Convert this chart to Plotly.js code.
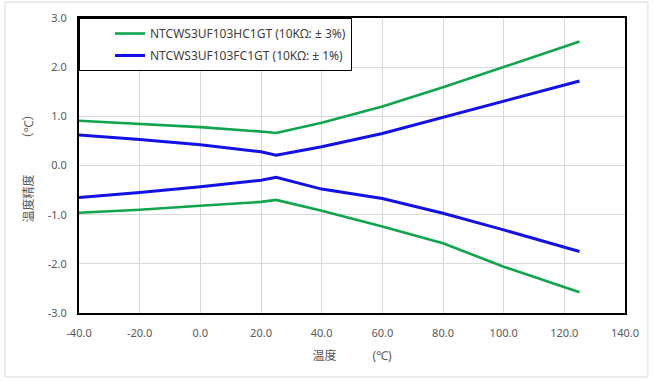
<!DOCTYPE html>
<html><head><meta charset="utf-8">
<script src="https://cdn.plot.ly/plotly-3.0.1.min.js"></script>
<style>body{margin:0;background:#fff}#c{width:653px;height:381px}</style>
</head><body><div id="c"></div>
<script>
const temps = [-40, -20, 0, 20, 25, 40, 60, 80, 100, 125];
const hcUpper = [0.91, 0.84, 0.78, 0.69, 0.66, 0.87, 1.20, 1.59, 2.01, 2.52];
const hcLower = [-0.96, -0.90, -0.82, -0.74, -0.70, -0.92, -1.24, -1.58, -2.06, -2.58];
const fcUpper = [0.62, 0.53, 0.42, 0.28, 0.21, 0.38, 0.65, 0.98, 1.30, 1.72];
const fcLower = [-0.65, -0.55, -0.43, -0.30, -0.24, -0.48, -0.67, -0.97, -1.31, -1.75];
const names = ['NTCWS3UF103HC1GT (10KΩ: ± 3%)', 'NTCWS3UF103FC1GT (10KΩ: ± 1%)'];
const green = '#0fa64b', blue = '#1212e6';
const xTicks = [-40, -20, 0, 20, 40, 60, 80, 100, 120, 140];
const yTicks = [-3, -2, -1, 0, 1, 2, 3];

const mk = (y, name, color, grp, show) => ({
  x: temps, y: y, type: 'scatter', mode: 'lines', name: name,
  legendgroup: grp, showlegend: show, line: {color: color, width: grp === 'fc' ? 3 : 2.6}
});
const data = [
  mk(hcUpper, names[0], green, 'hc', true),
  mk(hcLower, names[0], green, 'hc', false),
  mk(fcUpper, names[1], blue, 'fc', true),
  mk(fcLower, names[1], blue, 'fc', false)
];
const fnt = 'Noto Sans, Noto Sans CJK SC, sans-serif';
const layout = {
  width: 653, height: 381,
  margin: {l: 79, r: 28, t: 18, b: 68},
  paper_bgcolor: '#fff', plot_bgcolor: '#fff',
  font: {family: fnt, size: 11, color: '#595959'},
  xaxis: {
    range: [-40, 140], tickvals: xTicks, ticktext: xTicks.map(v => v.toFixed(1)),
    showgrid: true, gridcolor: '#d9d9d9', gridwidth: 1, zeroline: false,
    showline: true, linecolor: '#000', linewidth: 2, mirror: true,
    ticks: '', ticklabelstandoff: 9, tickfont: {size: 11, color: '#595959'},
    title: {text: '温度　　　(℃)', font: {size: 12, color: '#595959'}, standoff: 12}
  },
  yaxis: {
    range: [-3, 3], tickvals: yTicks, ticktext: yTicks.map(v => v.toFixed(1)),
    showgrid: true, gridcolor: '#d9d9d9', gridwidth: 1, zeroline: false,
    showline: true, linecolor: '#000', linewidth: 2, mirror: true,
    ticks: '', ticklabelstandoff: 8, tickfont: {size: 11, color: '#595959'},
    title: {text: '温度精度　　　（℃）', font: {size: 12, color: '#595959'}, standoff: 12}
  },
  legend: {
    x: 0, y: 1, xanchor: 'left', yanchor: 'top',
    bgcolor: '#fff', bordercolor: '#000', borderwidth: 1, indentation: 30,
    font: {size: 12, color: '#404040'}, traceorder: 'grouped', tracegroupgap: 3
  },
  shapes: [{
    type: 'rect', xref: 'paper', yref: 'paper', layer: 'below',
    x0: -0.1355, x1: 1.042, y0: -0.217, y1: 1.054,
    line: {color: '#d9d9d9', width: 1}
  }]
};
Plotly.newPlot('c', data, layout, {displayModeBar: false, staticPlot: true});
</script></body></html>
